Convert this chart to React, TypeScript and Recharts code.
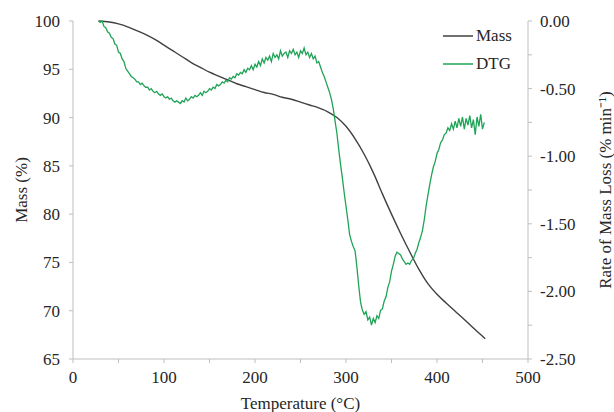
import { ComposedChart, Label, Legend, Line, XAxis, YAxis } from 'recharts';

// temperature (°C), mass (%)
const MASS_POINTS: [number, number][] = [
  [28, 100], [40, 99.9], [50, 99.7], [60, 99.4], [70, 99.0], [80, 98.6], [90, 98.1],
  [100, 97.5], [110, 96.9], [120, 96.3], [130, 95.7], [140, 95.2], [150, 94.7],
  [160, 94.3], [170, 93.9], [180, 93.5], [190, 93.2], [200, 92.9], [210, 92.6],
  [220, 92.4], [230, 92.1], [240, 91.9], [250, 91.6], [260, 91.3], [270, 91.0],
  [280, 90.6], [290, 90.0], [300, 89.1], [310, 87.8], [320, 86.2], [330, 84.3],
  [340, 82.1], [350, 80.0], [360, 78.0], [370, 76.1], [380, 74.3], [390, 72.8],
  [400, 71.7], [410, 70.8], [420, 69.95], [430, 69.1], [440, 68.2], [453, 67.1],
];

// temperature (°C), rate of mass loss (% min-1)
const DTG_POINTS: [number, number][] = [
  [28, 0.0], [30, -0.01], [32, 0.0], [34, -0.04], [36, -0.05], [38, -0.08], [40, -0.09],
  [42, -0.12], [44, -0.13], [46, -0.17], [48, -0.18], [50, -0.23], [52, -0.24], [54, -0.28],
  [56, -0.3], [58, -0.35], [60, -0.37], [62, -0.39], [64, -0.41], [66, -0.42], [68, -0.43],
  [70, -0.45], [72, -0.45], [74, -0.47], [76, -0.46], [78, -0.48], [80, -0.49], [82, -0.49],
  [84, -0.51], [86, -0.5], [88, -0.52], [90, -0.53], [92, -0.52], [94, -0.54], [96, -0.55],
  [98, -0.54], [100, -0.56], [102, -0.57], [104, -0.56], [106, -0.58], [108, -0.57],
  [110, -0.59], [112, -0.6], [114, -0.59], [116, -0.6], [118, -0.61], [120, -0.59],
  [122, -0.6], [124, -0.57], [126, -0.59], [128, -0.58], [130, -0.56], [132, -0.57],
  [134, -0.55], [136, -0.56], [138, -0.55], [140, -0.53], [142, -0.55], [144, -0.52],
  [146, -0.53], [148, -0.52], [150, -0.5], [152, -0.51], [154, -0.49], [156, -0.5],
  [158, -0.47], [160, -0.48], [162, -0.47], [164, -0.45], [166, -0.46], [168, -0.44],
  [170, -0.45], [172, -0.42], [174, -0.43], [176, -0.41], [178, -0.42], [180, -0.39],
  [182, -0.4], [184, -0.38], [186, -0.39], [188, -0.36], [190, -0.38], [192, -0.35],
  [194, -0.36], [196, -0.33], [198, -0.36], [200, -0.32], [202, -0.34], [204, -0.3],
  [206, -0.33], [208, -0.28], [210, -0.31], [212, -0.27], [214, -0.29], [216, -0.26],
  [218, -0.3], [220, -0.24], [222, -0.27], [224, -0.25], [226, -0.28], [228, -0.22],
  [230, -0.26], [232, -0.24], [234, -0.23], [236, -0.27], [238, -0.22], [240, -0.24],
  [242, -0.21], [244, -0.25], [246, -0.23], [248, -0.27], [250, -0.22], [252, -0.24],
  [254, -0.2], [256, -0.25], [258, -0.23], [260, -0.27], [262, -0.24], [264, -0.28],
  [266, -0.26], [268, -0.31], [270, -0.3], [272, -0.34], [274, -0.38], [276, -0.41],
  [278, -0.45], [280, -0.49], [282, -0.53], [284, -0.58], [286, -0.65], [288, -0.74],
  [290, -0.83], [292, -0.95], [294, -1.06], [296, -1.16], [298, -1.27], [300, -1.37],
  [302, -1.47], [304, -1.58], [306, -1.63], [308, -1.67], [310, -1.7], [312, -1.82],
  [314, -1.96], [316, -2.08], [318, -2.14], [320, -2.17], [322, -2.15], [324, -2.21],
  [326, -2.19], [328, -2.25], [330, -2.2], [332, -2.23], [334, -2.18], [336, -2.2],
  [338, -2.14], [340, -2.13], [342, -2.07], [344, -2.04], [346, -1.97], [348, -1.93],
  [350, -1.85], [352, -1.8], [354, -1.74], [356, -1.71], [358, -1.72], [360, -1.73],
  [362, -1.76], [364, -1.78], [366, -1.8], [368, -1.79], [370, -1.8], [372, -1.77],
  [374, -1.76], [376, -1.72], [378, -1.69], [380, -1.64], [382, -1.6], [384, -1.55],
  [386, -1.47], [388, -1.37], [390, -1.29], [392, -1.21], [394, -1.14], [396, -1.08],
  [398, -1.04], [400, -0.98], [402, -0.95], [404, -0.9], [406, -0.88], [408, -0.84],
  [410, -0.83], [412, -0.79], [414, -0.81], [416, -0.76], [418, -0.8], [420, -0.74],
  [422, -0.79], [424, -0.72], [426, -0.78], [428, -0.71], [430, -0.8], [432, -0.72],
  [434, -0.77], [436, -0.7], [438, -0.79], [440, -0.73], [442, -0.84], [444, -0.71],
  [446, -0.78], [448, -0.69], [450, -0.8], [452, -0.75],
];

const TEMP_TICKS = [0, 50, 100, 150, 200, 250, 300, 350, 400, 450, 500];
const MASS_TICKS = [65, 70, 75, 80, 85, 90, 95, 100];
const RATE_TICKS = [0, -0.25, -0.5, -0.75, -1, -1.25, -1.5, -1.75, -2, -2.25, -2.5];

const LEGEND_ITEMS = [
  { name: 'Mass', color: '#404040' },
  { name: 'DTG', color: '#1fa356' },
];

const massData = MASS_POINTS.map(([temp, mass]) => ({ temp, mass }));
const dtgData = DTG_POINTS.map(([temp, rate]) => ({ temp, rate }));

const FONT = "'Liberation Serif', 'Times New Roman', serif";
const AXIS_GRAY = '#bfbfbf';
const TEXT = '#262626';
const tickStyle = { fill: TEXT, fontSize: 17, fontFamily: FONT };

function ChartLegend() {
  return (
    <div style={{ fontFamily: FONT, fontSize: 17, color: TEXT }}>
      {LEGEND_ITEMS.map((item) => (
        <div key={item.name} style={{ display: 'flex', alignItems: 'center', height: 28 }}>
          <svg width={30} height={4} style={{ marginRight: 3 }}>
            <line x1={0} y1={2} x2={30} y2={2} stroke={item.color} strokeWidth={1.5} />
          </svg>
          <span>{item.name}</span>
        </div>
      ))}
    </div>
  );
}

export default function App() {
  return (
    <div style={{ position: 'absolute', left: 0, top: 0, width: 614, height: 412, background: '#fff' }}>
      <ComposedChart width={614} height={412} margin={{ top: 21, right: 0, bottom: 0, left: 0 }}>
        <XAxis
          dataKey="temp"
          type="number"
          domain={[0, 500]}
          ticks={TEMP_TICKS}
          interval={0}
          allowDataOverflow
          height={53}
          stroke={AXIS_GRAY}
          tickSize={4}
          tickMargin={8}
          tick={tickStyle}
          tickFormatter={(v: number) => (v % 100 === 0 ? String(v) : '')}
        >
          <Label value="Temperature (°C)" position="center" dy={17} style={{ ...tickStyle }} />
        </XAxis>
        <YAxis
          yAxisId="mass"
          orientation="left"
          domain={[65, 100]}
          ticks={MASS_TICKS}
          interval={0}
          width={73}
          stroke={AXIS_GRAY}
          tickSize={4}
          tickMargin={9}
          tick={tickStyle}
        >
          <Label value="Mass (%)" position="center" angle={-90} dx={-16} style={{ ...tickStyle }} />
        </YAxis>
        <YAxis
          yAxisId="rate"
          orientation="right"
          domain={[-2.5, 0]}
          ticks={RATE_TICKS}
          interval={0}
          width={86}
          stroke={AXIS_GRAY}
          tickSize={4}
          tickMargin={8}
          tick={tickStyle}
          tickFormatter={(v: number) => (Math.abs(v * 2 - Math.round(v * 2)) < 1e-6 ? v.toFixed(2) : '')}
        >
          <Label
            value="Rate of Mass Loss (% min⁻¹)"
            position="center"
            angle={-90}
            dx={34}
            style={{ ...tickStyle }}
          />
        </YAxis>
        <Legend
          layout="vertical"
          align="center"
          verticalAlign="middle"
          content={<ChartLegend />}
          wrapperStyle={{ top: 22, left: 443, width: 'auto' }}
        />
        <Line
          yAxisId="mass"
          data={massData}
          dataKey="mass"
          name="Mass"
          type="monotone"
          stroke="#404040"
          strokeWidth={1.4}
          dot={false}
          isAnimationActive={false}
        />
        <Line
          yAxisId="rate"
          data={dtgData}
          dataKey="rate"
          name="DTG"
          type="linear"
          stroke="#1fa356"
          strokeWidth={1.3}
          dot={false}
          isAnimationActive={false}
        />
      </ComposedChart>
    </div>
  );
}
